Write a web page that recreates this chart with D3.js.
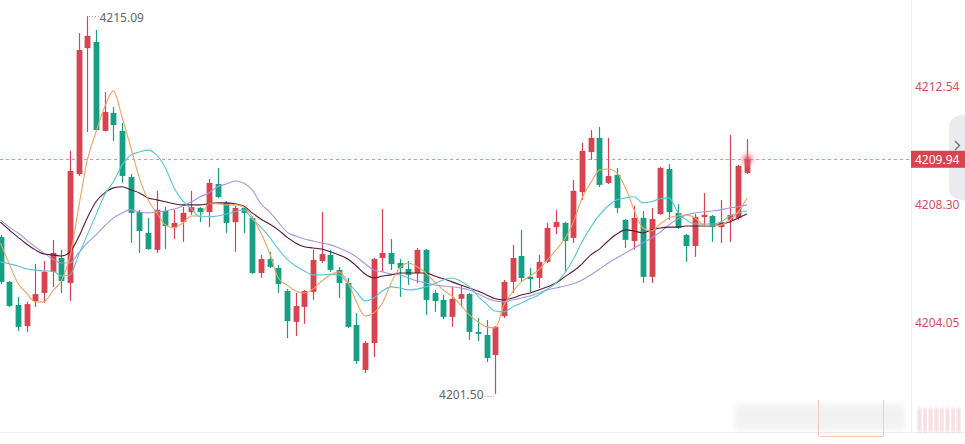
<!DOCTYPE html>
<html>
<head>
<meta charset="utf-8">
<script src="https://cdn.jsdelivr.net/npm/d3@7"></script>
<style>
  html, body { margin:0; padding:0; background:#fff; }
  svg { display:block; font-family:"Noto Sans", "DejaVu Sans", sans-serif; }
</style>
</head>
<body>
<div id="chart"></div>
<script>
// ---- data ----
var opens  = [4207.14,4205.53,4204.70,4203.94,4204.84,4205.13,4205.89,4206.39,4205.49,4209.41,
              4213.94,4214.16,4210.96,4211.61,4210.96,4209.30,4208.04,4207.29,4206.68,4208.08,
              4207.50,4207.68,4208.04,4208.19,4208.04,4209.05,4208.37,4207.68,4208.19,4207.83,
              4205.85,4206.35,4206.03,4205.20,4204.09,4204.63,4205.17,4206.28,4206.50,4205.96,
              4205.49,4203.98,4202.36,4203.33,4206.39,4206.57,4206.21,4205.99,4205.85,4206.68,
              4205.13,4204.88,4204.27,4204.92,4205.09,4203.73,4203.62,4202.90,4204.30,4205.53,
              4206.46,4205.71,4205.67,4206.25,4207.50,4207.65,4207.11,4208.76,4210.20,4210.71,
              4209.09,4209.38,4207.76,4207.00,4207.83,4205.71,4207.97,4209.59,4208.01,4207.22,
              4206.82,4207.86,4207.90,4207.50,4207.76,4207.83,4209.45];
var highs  = [4207.22,4205.56,4204.99,4204.81,4206.17,4206.28,4207.04,4206.68,4210.24,4214.48,
              4215.09,4214.59,4212.36,4211.82,4211.25,4209.41,4208.12,4207.83,4208.80,4208.22,
              4208.12,4208.22,4208.80,4208.22,4209.23,4209.63,4208.44,4208.26,4208.26,4207.90,
              4206.50,4206.61,4206.14,4205.27,4205.13,4205.24,4206.68,4208.04,4206.68,4206.07,
              4205.67,4204.41,4203.40,4206.39,4208.15,4207.07,4206.35,4206.28,4206.75,4206.71,
              4205.24,4205.06,4205.35,4205.38,4205.13,4204.23,4204.16,4203.94,4205.60,4206.86,
              4207.40,4206.03,4206.50,4207.65,4208.12,4207.68,4209.20,4210.53,4210.99,4211.10,
              4210.71,4209.63,4207.79,4208.26,4208.08,4208.19,4209.66,4209.77,4208.33,4207.25,
              4207.97,4208.73,4207.94,4208.48,4210.81,4209.74,4210.67];
var lows   = [4205.45,4204.63,4203.76,4203.73,4204.63,4204.77,4205.35,4205.13,4204.84,4209.34,
              4210.92,4210.96,4210.94,4210.60,4209.09,4206.93,4206.57,4206.68,4206.57,4206.71,
              4207.07,4206.97,4207.94,4207.68,4207.50,4208.55,4207.29,4206.61,4207.29,4205.81,
              4205.67,4206.03,4205.13,4203.51,4203.58,4204.02,4204.88,4206.21,4205.89,4204.95,
              4203.87,4202.58,4202.25,4202.83,4205.89,4205.96,4204.99,4205.42,4205.49,4204.34,
              4204.45,4204.19,4203.91,4204.63,4203.44,4203.40,4202.65,4201.50,4204.23,4205.13,
              4205.53,4205.17,4205.31,4206.21,4207.25,4205.89,4206.93,4208.48,4209.92,4208.94,
              4209.05,4208.01,4206.75,4206.68,4205.49,4205.49,4207.94,4207.76,4207.43,4206.25,
              4206.43,4207.54,4206.97,4206.93,4206.97,4207.76,4209.41];
var closes = [4205.53,4204.66,4203.91,4204.73,4205.09,4205.89,4206.57,4205.56,4209.52,4213.87,
              4214.38,4210.99,4211.64,4211.17,4209.34,4208.01,4207.36,4206.71,4208.12,4207.54,
              4207.65,4208.01,4208.22,4208.04,4209.09,4208.58,4207.65,4208.19,4208.01,4205.85,
              4206.35,4206.07,4205.45,4204.12,4204.66,4205.20,4206.32,4206.53,4205.96,4205.49,
              4203.91,4202.68,4203.33,4206.35,4206.57,4206.17,4206.03,4205.78,4206.68,4204.88,
              4204.84,4204.27,4204.92,4205.09,4203.73,4203.66,4202.79,4203.91,4205.53,4206.39,
              4205.67,4205.63,4206.25,4207.47,4207.68,4207.00,4208.80,4210.24,4210.71,4209.02,
              4209.34,4208.19,4207.04,4207.83,4205.71,4207.79,4209.63,4208.04,4207.47,4206.82,
              4207.86,4207.94,4207.50,4207.68,4207.94,4209.70,4209.94];

var ma5  = [4206.93,4206.18,4205.49,4205.13,4204.81,4204.81,4205.20,4205.56,4206.43,4208.19,
            4209.91,4210.92,4211.82,4212.40,4211.46,4210.38,4209.27,4208.48,4208.01,4207.58,
            4207.47,4207.65,4207.90,4207.90,4208.34,4208.34,4208.30,4208.30,4208.23,4207.87,
            4207.29,4206.57,4205.67,4205.42,4205.20,4205.13,4205.27,4205.56,4205.78,4205.89,
            4205.53,4204.81,4204.30,4204.41,4204.77,4205.49,4206.03,4206.21,4206.07,4205.85,
            4205.53,4205.24,4205.02,4204.70,4204.34,4204.09,4203.91,4203.87,4204.70,4205.17,
            4205.53,4205.74,4205.96,4206.32,4206.68,4207.07,4207.68,4208.55,4209.09,4209.55,
            4209.59,4209.45,4208.91,4208.12,4207.47,4207.36,4207.61,4207.83,4207.90,4207.94,
            4207.83,4207.58,4207.54,4207.58,4207.76,4208.05,4208.55];
var ma10 = [4206.25,4206.18,4206.10,4205.99,4205.96,4205.92,4205.92,4205.74,4205.78,4206.50,
            4207.22,4207.94,4208.66,4209.13,4209.73,4210.09,4210.20,4210.27,4210.09,4209.63,
            4208.91,4208.44,4208.15,4207.87,4207.87,4207.90,4207.97,4208.05,4208.12,4207.79,
            4207.50,4207.14,4206.71,4206.35,4206.10,4205.92,4205.78,4205.78,4205.81,4205.78,
            4205.49,4205.17,4204.84,4204.95,4205.20,4205.35,4205.31,4205.24,4205.27,4205.35,
            4205.46,4205.60,4205.67,4205.56,4205.35,4205.02,4204.73,4204.48,4204.45,4204.63,
            4204.77,4204.92,4205.06,4205.27,4205.49,4205.85,4206.35,4206.97,4207.50,4207.94,
            4208.26,4208.48,4208.55,4208.59,4208.37,4208.41,4208.52,4208.55,4208.05,4207.76,
            4207.61,4207.61,4207.61,4207.68,4207.90,4208.01,4208.08];
var ma20 = [4207.68,4207.40,4207.14,4206.89,4206.68,4206.53,4206.50,4206.46,4206.61,4207.14,
            4207.83,4208.41,4208.73,4208.91,4208.95,4208.84,4208.73,4208.55,4208.48,4208.41,
            4208.34,4208.30,4208.30,4208.30,4208.34,4208.37,4208.37,4208.34,4208.26,4208.01,
            4207.79,4207.61,4207.40,4207.14,4206.93,4206.79,4206.75,4206.71,4206.61,4206.50,
            4206.35,4206.10,4205.81,4205.67,4205.74,4205.78,4205.85,4205.85,4205.85,4205.85,
            4205.74,4205.64,4205.53,4205.42,4205.31,4205.20,4205.06,4204.92,4204.88,4204.95,
            4205.06,4205.13,4205.24,4205.35,4205.49,4205.71,4205.92,4206.18,4206.50,4206.71,
            4207.00,4207.25,4207.40,4207.36,4207.29,4207.40,4207.47,4207.50,4207.50,4207.54,
            4207.54,4207.54,4207.54,4207.61,4207.68,4207.83,4207.97];
var ma30 = [4207.76,4207.50,4207.29,4207.04,4206.79,4206.57,4206.35,4206.21,4206.21,4206.57,
            4206.93,4207.22,4207.54,4207.83,4208.01,4208.12,4208.05,4208.01,4208.05,4208.08,
            4208.15,4208.26,4208.41,4208.59,4208.73,4208.95,4209.05,4209.16,4209.09,4208.84,
            4208.34,4208.05,4207.68,4207.32,4207.18,4207.07,4207.00,4206.93,4206.86,4206.75,
            4206.61,4206.43,4206.18,4205.96,4205.89,4205.81,4205.78,4205.67,4205.56,4205.49,
            4205.42,4205.38,4205.35,4205.31,4205.24,4205.10,4204.95,4204.84,4204.81,4204.88,
            4204.95,4205.02,4205.13,4205.24,4205.31,4205.38,4205.46,4205.60,4205.78,4205.99,
            4206.21,4206.39,4206.57,4206.75,4206.93,4207.11,4207.32,4207.58,4207.79,4207.94,
            4208.01,4208.05,4208.08,4208.12,4208.19,4208.23,4208.30];

var axisTicks = [4212.54, 4208.30, 4204.05];
var lastPrice = 4209.94;

// ---- layout ----
var W = 965, H = 444;
var plotRight = 911;
var upColor = "#d9434f", downColor = "#15a084";

var svg = d3.select("#chart").append("svg")
    .attr("width", W).attr("height", H);

var defs = svg.append("defs");
var glow = defs.append("radialGradient").attr("id", "glow");
glow.append("stop").attr("offset", "0%").attr("stop-color", "#e0404f").attr("stop-opacity", 0.9);
glow.append("stop").attr("offset", "45%").attr("stop-color", "#e86070").attr("stop-opacity", 0.45);
glow.append("stop").attr("offset", "100%").attr("stop-color", "#f4a0aa").attr("stop-opacity", 0);
defs.append("filter").attr("id", "blur").append("feGaussianBlur").attr("stdDeviation", 3);
defs.append("filter").attr("id", "blur2").append("feGaussianBlur").attr("stdDeviation", 1.6);

var n = closes.length;
var xScale = d3.scaleLinear().domain([0, n - 1]).range([0.5, 747]);
var yScale = d3.scaleLinear().domain([4204.05, 4212.54]).range([323, 87]);

// right axis separator
svg.append("line")
    .attr("x1", plotRight + 0.5).attr("x2", plotRight + 0.5)
    .attr("y1", 0).attr("y2", 432)
    .attr("stroke", "#efefef");

// bottom faint navigator area
var nav = svg.append("g").attr("class", "navigator");
nav.append("line").attr("x1", 0).attr("x2", W).attr("y1", 432.5).attr("y2", 432.5)
    .attr("stroke", "#ececec");
nav.append("rect").attr("x", 735).attr("y", 404).attr("width", 170).attr("height", 26)
    .attr("fill", "#e4e4e4").attr("opacity", 0.5).attr("filter", "url(#blur)");
d3.range(8).forEach(function (k) {
    nav.append("rect").attr("x", 918 + k * 5.6).attr("y", 408).attr("width", 3).attr("height", 24)
        .attr("fill", "#e0707f").attr("opacity", 0.35).attr("filter", "url(#blur2)");
});
nav.append("path").attr("d", "M818.5,400 V436.5 H883.5 V400")
    .attr("fill", "none").attr("stroke", "#f6cdb4");

// current price dashed line
svg.append("line")
    .attr("class", "price-line")
    .attr("x1", 0).attr("x2", plotRight)
    .attr("y1", Math.round(yScale(lastPrice)) + 0.5).attr("y2", Math.round(yScale(lastPrice)) + 0.5)
    .attr("stroke", "#ec8e99").attr("stroke-dasharray", "3,3");

// ---- candles ----
var candles = svg.append("g").attr("class", "candles");
var bodyW = 5.8;

candles.selectAll(".wick")
    .data(closes)
    .enter().append("line")
    .attr("class", "wick")
    .attr("x1", function (d, i) { return Math.round(xScale(i)) + 0.5; })
    .attr("x2", function (d, i) { return Math.round(xScale(i)) + 0.5; })
    .attr("y1", function (d, i) { return yScale(highs[i]); })
    .attr("y2", function (d, i) { return yScale(lows[i]); })
    .attr("stroke", function (d, i) { return d >= opens[i] ? upColor : downColor; })
    .attr("stroke-width", 1.2);

candles.selectAll(".body")
    .data(closes)
    .enter().append("rect")
    .attr("class", "body")
    .attr("x", function (d, i) { return Math.round(xScale(i)) + 0.5 - bodyW / 2; })
    .attr("y", function (d, i) { return yScale(Math.max(d, opens[i])); })
    .attr("width", bodyW)
    .attr("height", function (d, i) { return Math.max(1.5, Math.abs(yScale(d) - yScale(opens[i]))); })
    .attr("fill", function (d, i) { return d >= opens[i] ? upColor : downColor; });

// ---- moving averages ----
var maLine = d3.line()
    .x(function (d, i) { return xScale(i); })
    .y(function (d) { return yScale(d); })
    .curve(d3.curveMonotoneX);

[[ma30, "#a995e2"], [ma20, "#5a1733"], [ma10, "#55c6d6"], [ma5, "#f4a25e"]].forEach(function (m) {
    svg.append("path")
        .datum(m[0])
        .attr("class", "line ma")
        .attr("d", maLine)
        .attr("fill", "none")
        .attr("stroke", m[1])
        .attr("stroke-width", 1.1);
});

// last price glow
svg.append("circle")
    .attr("cx", xScale(n - 1) + 0.5).attr("cy", yScale(lastPrice))
    .attr("r", 9).attr("fill", "url(#glow)");

// ---- high / low markers ----
var hiIdx = d3.maxIndex(highs), loIdx = d3.minIndex(lows);
var hiX = Math.round(xScale(hiIdx)) + 0.5, loX = Math.round(xScale(loIdx)) + 0.5;

svg.append("line")
    .attr("x1", hiX + 1.5).attr("x2", hiX + 11)
    .attr("y1", yScale(highs[hiIdx]) + 0.5).attr("y2", yScale(highs[hiIdx]) + 0.5)
    .attr("stroke", "#888").attr("stroke-dasharray", "1,2");
svg.append("text")
    .attr("x", hiX + 12).attr("y", yScale(highs[hiIdx]) + 6)
    .attr("font-size", 12).attr("fill", "#666")
    .text(highs[hiIdx].toFixed(2));

svg.append("line")
    .attr("x1", loX - 11).attr("x2", loX - 1.5)
    .attr("y1", yScale(lows[loIdx]) + 2.5).attr("y2", yScale(lows[loIdx]) + 2.5)
    .attr("stroke", "#888").attr("stroke-dasharray", "1,2");
svg.append("text")
    .attr("x", loX - 12).attr("y", yScale(lows[loIdx]) + 5.5)
    .attr("text-anchor", "end")
    .attr("font-size", 12).attr("fill", "#666")
    .text(lows[loIdx].toFixed(2));

// ---- right axis ----
var yAxis = d3.axisRight(yScale)
    .tickValues(axisTicks)
    .tickSize(0)
    .tickPadding(4)
    .tickFormat(function (d) { return d.toFixed(2); });

var yAxisGroup = svg.append("g")
    .attr("class", "y axis")
    .attr("transform", "translate(" + plotRight + ",0)")
    .call(yAxis);
yAxisGroup.select(".domain").remove();
yAxisGroup.selectAll("text")
    .attr("font-size", 12)
    .attr("font-family", "\"Noto Sans\", sans-serif")
    .attr("fill", "#d4505e");

// side handle
svg.append("path")
    .attr("d", "M965,114 L957,116 Q949,119 949,128 L949,188 Q949,196 957,199 L965,201 Z")
    .attr("fill", "#e9ebef");
svg.append("path")
    .attr("d", "M955,141 L959.5,145.5 L955,150")
    .attr("fill", "none").attr("stroke", "#6c7079").attr("stroke-width", 1.4);

// current price label
var py = yScale(lastPrice);
svg.append("rect")
    .attr("x", plotRight).attr("y", py - 8.5)
    .attr("width", W - plotRight).attr("height", 17)
    .attr("fill", "#d9434f");
svg.append("text")
    .attr("x", plotRight + 4).attr("y", py + 4.5)
    .attr("font-size", 12).attr("fill", "#fff")
    .text(lastPrice.toFixed(2));
</script>
</body>
</html>
